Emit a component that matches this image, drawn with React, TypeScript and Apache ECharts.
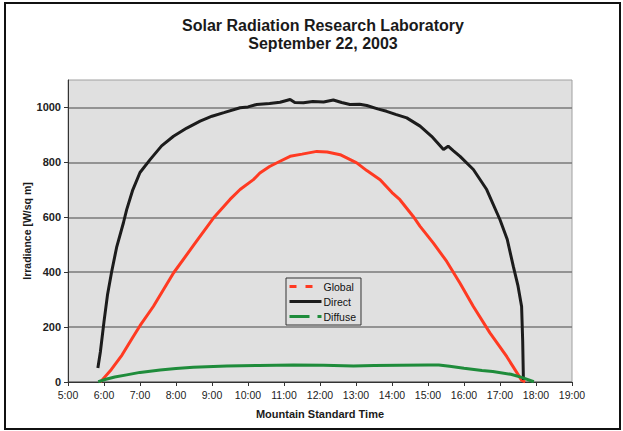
import React, { useEffect, useRef } from "react";
import * as echarts from "echarts";

const titleLines = ["Solar Radiation Research Laboratory", "September 22, 2003"];
const xAxisName = "Mountain Standard Time";
const yAxisName = "Irradiance [W/sq m]";
const seriesNames = ["Global", "Direct", "Diffuse"];

const globalHours = [5.9, 6.0, 6.2, 6.5, 6.81, 7.0, 7.37, 7.93, 8.5, 9.04, 9.5, 9.78, 10.15, 10.33, 10.6, 10.89, 11.17, 11.5, 11.91, 12.2, 12.56, 13.02, 13.3, 13.67, 14.0, 14.22, 14.59, 14.78, 15.15, 15.52, 15.89, 16.26, 16.72, 17.19, 17.6, 17.7];
const globalValues = [0, 15, 45, 98, 165, 205, 275, 397, 500, 597, 665, 701, 737, 761, 785, 804, 822, 830, 840, 838, 828, 798, 770, 737, 690, 664, 603, 567, 506, 439, 360, 275, 179, 92, 7, 0];

const directHours = [5.83, 5.9, 6.0, 6.1, 6.21, 6.35, 6.54, 6.63, 6.8, 7.0, 7.28, 7.6, 7.93, 8.3, 8.67, 9.0, 9.33, 9.78, 10.0, 10.24, 10.6, 10.89, 11.17, 11.3, 11.54, 11.8, 12.1, 12.37, 12.6, 12.83, 13.1, 13.3, 13.6, 13.85, 14.1, 14.41, 14.78, 15.1, 15.43, 15.56, 15.7, 15.89, 16.26, 16.63, 17.0, 17.2, 17.37, 17.5, 17.6, 17.63, 17.65];
const directValues = [51, 110, 220, 320, 400, 490, 580, 628, 700, 763, 810, 860, 895, 925, 950, 968, 981, 999, 1002, 1011, 1014, 1019, 1029, 1018, 1017, 1022, 1020, 1027, 1018, 1011, 1012, 1007, 995, 986, 975, 962, 932, 895, 847, 859, 843, 822, 774, 701, 591, 520, 421, 350, 275, 150, 7];

const diffuseHours = [5.84, 6.0, 6.3, 6.63, 7.0, 7.56, 8.0, 8.48, 9.41, 10.3, 11.26, 12.1, 12.93, 13.5, 14.2, 15.0, 15.3, 15.6, 16.0, 16.5, 16.8, 17.3, 17.6, 17.94];
const diffuseValues = [1, 8, 18, 26, 35, 44, 49, 54, 58, 60, 62, 61, 58, 60, 61, 62, 62, 57, 50, 42, 38, 28, 17, 1];

const xMin = 5;
const xMax = 19;
const yMin = 0;
const yMax = 1100;
const yStep = 200;

function pairs(xs: number[], ys: number[]) {
  return xs.map((x, i) => [x, ys[i]]);
}

export default function App() {
  const ref = useRef<HTMLDivElement>(null);
  useEffect(() => {
    if (!ref.current) return;
    const chart = echarts.init(ref.current, null, { renderer: "svg" });
    const font = "Liberation Sans, Arial, sans-serif";
    const hideSymbol = { opacity: 0 };
    chart.setOption({
      animation: false,
      backgroundColor: "#ffffff",
      textStyle: { fontFamily: font },
      title: {
        text: titleLines.join("\n"),
        left: 318,
        textAlign: "center",
        top: 11,
        textStyle: { fontFamily: font, fontSize: 16, fontWeight: "bold", color: "#1a1a1a", lineHeight: 18 },
      },
      graphic: [
        {
          type: "rect",
          shape: { x: 5, y: 3, width: 615, height: 426 },
          style: { fill: "none", stroke: "#111", lineWidth: 2 },
          silent: true,
          z: -1,
        },
      ],
      legend: {
        orient: "vertical",
        left: 286,
        top: 278,
        itemWidth: 32,
        itemHeight: 10,
        itemGap: 4,
        padding: [3, 5, 3, 2],
        borderColor: "#333",
        borderWidth: 1,
        backgroundColor: "#e0e0e0",
        textStyle: { fontFamily: font, fontSize: 10.5, color: "#111", padding: [0, 0, 0, -3] },
        data: [
          { name: seriesNames[0], lineStyle: { type: [7, 9], width: 3 }, itemStyle: hideSymbol },
          { name: seriesNames[1], lineStyle: { width: 3 }, itemStyle: hideSymbol },
          { name: seriesNames[2], lineStyle: { type: [20, 8], width: 3 }, itemStyle: hideSymbol },
        ],
      },
      grid: {
        left: 68,
        right: 51,
        top: 80,
        bottom: 49,
        show: true,
        backgroundColor: "#e0e0e0",
        borderColor: "#a0a0a0",
        borderWidth: 1,
      },
      xAxis: {
        type: "value",
        min: xMin,
        max: xMax,
        interval: 1,
        name: xAxisName,
        nameLocation: "middle",
        nameGap: 26,
        nameMoveOverlap: false,
        nameTextStyle: { fontFamily: font, fontSize: 11, fontWeight: "bold", color: "#1a1a1a" },
        axisLine: { show: true, lineStyle: { color: "#333", width: 1 } },
        axisTick: { show: true, length: 4, lineStyle: { color: "#333" } },
        axisLabel: {
          fontFamily: font,
          fontSize: 10.5,
          color: "#222",
          margin: 7,
          formatter: (v: number) => `${v}:00`,
        },
        splitLine: { show: false },
      },
      yAxis: {
        type: "value",
        min: yMin,
        max: yMax,
        interval: yStep,
        name: yAxisName,
        nameLocation: "middle",
        nameGap: 36,
        nameMoveOverlap: false,
        nameTextStyle: { fontFamily: font, fontSize: 10.5, fontWeight: "bold", color: "#1a1a1a" },
        axisLine: { show: true, lineStyle: { color: "#333", width: 1 } },
        axisTick: { show: true, length: 4, lineStyle: { color: "#333" } },
        axisLabel: {
          fontFamily: font,
          fontSize: 11,
          fontWeight: "bold",
          color: "#222",
          margin: 7,
          showMaxLabel: false,
          formatter: (v: number) => String(v),
        },
        splitLine: { show: true, showMaxLine: false, lineStyle: { color: "#7a7a7a", width: 1.5 } },
      },
      series: [
        {
          name: seriesNames[0],
          type: "line",
          symbol: "none",
          data: pairs(globalHours, globalValues),
          lineStyle: { color: "#ff3a22", width: 3 },
          itemStyle: { color: "#ff3a22" },
        },
        {
          name: seriesNames[1],
          type: "line",
          symbol: "none",
          data: pairs(directHours, directValues),
          lineStyle: { color: "#1c1c1c", width: 3 },
          itemStyle: { color: "#1c1c1c" },
        },
        {
          name: seriesNames[2],
          type: "line",
          symbol: "none",
          data: pairs(diffuseHours, diffuseValues),
          lineStyle: { color: "#1f8c3b", width: 3 },
          itemStyle: { color: "#1f8c3b" },
        },
      ],
    });
    return () => chart.dispose();
  }, []);
  return (
    <div
      ref={ref}
      style={{ position: "absolute", left: 0, top: 0, width: 623, height: 431 }}
    />
  );
}
